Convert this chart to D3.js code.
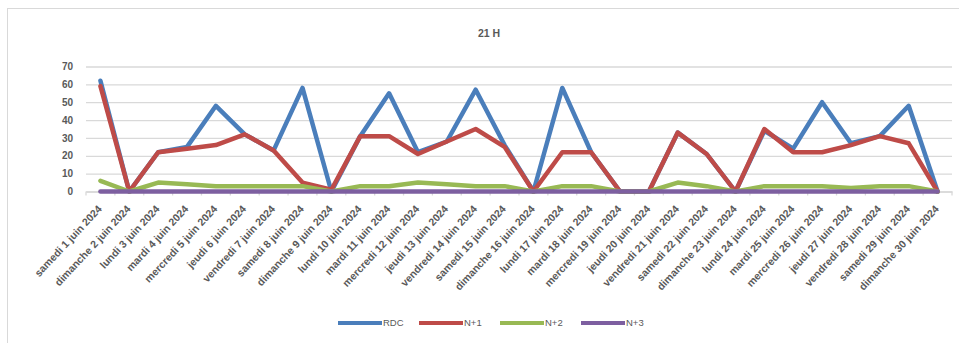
<!DOCTYPE html>
<html>
<head>
<meta charset="utf-8">
<script src="https://cdn.jsdelivr.net/npm/d3@7"></script>
<style>
  html, body { margin: 0; padding: 0; background: #fff; }
  svg { display: block; font-family: "Liberation Sans", Arial, sans-serif; }
</style>
</head>
<body>
<svg id="chart" width="959" height="343"></svg>
<script>
const title = "21 H";
const categories = [
  "samedi 1 juin 2024", "dimanche 2 juin 2024", "lundi 3 juin 2024", "mardi 4 juin 2024",
  "mercredi 5 juin 2024", "jeudi 6 juin 2024", "vendredi 7 juin 2024", "samedi 8 juin 2024",
  "dimanche 9 juin 2024", "lundi 10 juin 2024", "mardi 11 juin 2024", "mercredi 12 juin 2024",
  "jeudi 13 juin 2024", "vendredi 14 juin 2024", "samedi 15 juin 2024", "dimanche 16 juin 2024",
  "lundi 17 juin 2024", "mardi 18 juin 2024", "mercredi 19 juin 2024", "jeudi 20 juin 2024",
  "vendredi 21 juin 2024", "samedi 22 juin 2024", "dimanche 23 juin 2024", "lundi 24 juin 2024",
  "mardi 25 juin 2024", "mercredi 26 juin 2024", "jeudi 27 juin 2024", "vendredi 28 juin 2024",
  "samedi 29 juin 2024", "dimanche 30 juin 2024"
];
const seriesNames = ["RDC", "N+1", "N+2", "N+3"];
const seriesColors = ["#4a7ebb", "#be4b48", "#98b954", "#7d5fa0"];
const rdc = [62, 0, 22, 25, 48, 32, 23, 58, 0, 31, 55, 22, 28, 57, 26, 0, 58, 22, 0, 0, 33, 21, 0, 34, 24, 50, 27, 31, 48, 0];
const n1  = [59, 0, 22, 24, 26, 32, 23, 5, 1, 31, 31, 21, 28, 35, 25, 0, 22, 22, 0, 0, 33, 21, 0, 35, 22, 22, 26, 31, 27, 0];
const n2  = [6, 0, 5, 4, 3, 3, 3, 3, 0, 3, 3, 5, 4, 3, 3, 0, 3, 3, 0, 0, 5, 3, 0, 3, 3, 3, 2, 3, 3, 0];
const n3  = [0, 0, 0, 0, 0, 0, 0, 0, 0, 0, 0, 0, 0, 0, 0, 0, 0, 0, 0, 0, 0, 0, 0, 0, 0, 0, 0, 0, 0, 0];
const yTicks = [0, 10, 20, 30, 40, 50, 60, 70];

const seriesValues = [rdc, n1, n2, n3];
const svg = d3.select("#chart");
const textColor = "#595959";
const gridColor = "#d9d9d9";

// outer chart border (left/top visible)
svg.append("rect").attr("x", 7.5).attr("y", 8.5).attr("width", 1000).attr("height", 400)
  .attr("fill", "none").attr("stroke", "#d9d9d9").attr("stroke-width", 1);

const x = d3.scaleBand().domain(categories).range([86, 952]);
const y = d3.scaleLinear().domain([0, 70]).range([191.5, 66.5]);
const cx = c => x(c) + x.bandwidth() / 2;

// title
svg.append("text").attr("x", 489).attr("y", 37).attr("text-anchor", "middle")
  .attr("font-size", "10.5px").attr("font-weight", "bold").attr("fill", textColor).text(title);

// y axis + gridlines
const yAxis = svg.append("g").attr("transform", "translate(86,0)")
  .call(d3.axisLeft(y).tickValues(yTicks).tickSize(-(952 - 86)).tickPadding(13));
yAxis.select(".domain").remove();
yAxis.selectAll(".tick line").attr("stroke", gridColor).attr("stroke-width", 1.3);
yAxis.selectAll(".tick text").attr("fill", textColor).attr("font-size", "10px").attr("font-weight", "bold");

// x axis
const xAxis = svg.append("g").attr("transform", `translate(0,${y(0)})`)
  .call(d3.axisBottom(x).tickSize(0).tickSizeOuter(0));
xAxis.select(".domain").attr("stroke", gridColor).attr("stroke-width", 1.3);
xAxis.selectAll(".tick text")
  .attr("fill", textColor).attr("font-size", "10.5px").attr("font-weight", "bold")
  .attr("text-anchor", "end")
  .attr("transform", "translate(2,18) rotate(-47)")
  .attr("y", 0).attr("dy", 0);
// category boundary ticks
const bounds = categories.map(c => x(c)).concat([x(categories[categories.length - 1]) + x.bandwidth()]);
svg.append("g").selectAll("line").data(bounds).join("line")
  .attr("x1", d => d).attr("x2", d => d).attr("y1", y(0)).attr("y2", y(0) + 4)
  .attr("stroke", gridColor).attr("stroke-width", 1.3);

// lines
const line = d3.line().x((d, i) => cx(categories[i])).y(d => y(d));
seriesValues.forEach((vals, k) => {
  svg.append("path").datum(vals).attr("d", line)
    .attr("fill", "none").attr("stroke", seriesColors[k]).attr("stroke-width", 4.5)
    .attr("stroke-linejoin", "round").attr("stroke-linecap", "round");
});

// legend
const legendX = [338, 419, 500, 581];
const lg = svg.append("g");
seriesNames.forEach((name, k) => {
  const g = lg.append("g").attr("transform", `translate(${legendX[k]},323)`);
  g.append("line").attr("x1", 0).attr("x2", 44).attr("y1", 0).attr("y2", 0)
    .attr("stroke", seriesColors[k]).attr("stroke-width", 4);
  g.append("text").attr("x", 45).attr("y", 0).attr("dy", "0.35em")
    .attr("font-size", "9.5px").attr("fill", textColor).text(name);
});
</script>
</body>
</html>
